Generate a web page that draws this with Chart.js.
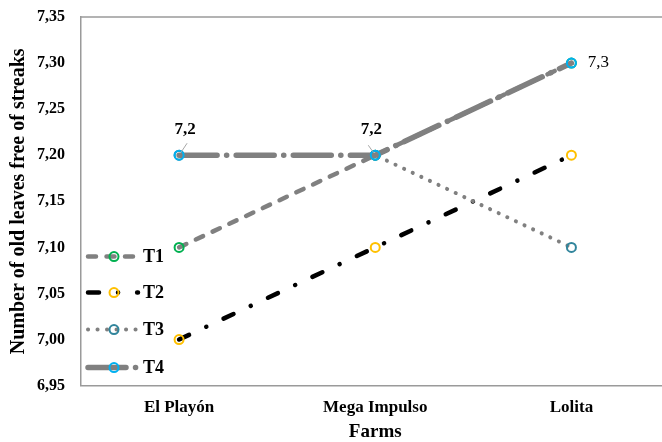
<!DOCTYPE html>
<html>
<head>
<meta charset="utf-8">
<script src="https://cdn.jsdelivr.net/npm/chart.js@4.4.1/dist/chart.umd.min.js"></script>
<style>
    body { margin: 0; overflow: hidden; background: #fff; }
    #wrap { width: 676px; height: 442px; }
</style>
</head>
<body>
<div id="wrap"><canvas id="farmsChart" width="676" height="442"></canvas></div>
<script>
// Data
var farms = ['El Playón', 'Mega Impulso', 'Lolita'];
var t1 = [7.10, 7.20, 7.30];
var t2 = [7.00, 7.10, 7.20];
var t3 = [7.20, 7.20, 7.10];
var t4 = [7.20, 7.20, 7.30];
var yMin = 6.95;
var yMax = 7.35;
var yStep = 0.05;

var serif = "'Liberation Serif', 'Times New Roman', serif";
var lineGray = '#808080';
var axisGray = '#9a9a9a';

function comma(v, d) {
    return v.toFixed(d).replace('.', ',');
}

var datasets = [
    { label: 'T1', data: t1, borderColor: lineGray, borderWidth: 4.5, borderDash: [8, 10.5],
      pointBorderColor: '#00b050', order: 3 },
    { label: 'T2', data: t2, borderColor: '#000000', borderWidth: 4.5, borderDash: [11, 19, 0.1, 19],
      pointBorderColor: '#ffc000', order: 2 },
    { label: 'T3', data: t3, borderColor: lineGray, borderWidth: 4, borderDash: [0.1, 9.4],
      pointBorderColor: '#31859c', order: 1 },
    { label: 'T4', data: t4, borderColor: lineGray, borderWidth: 5.5, borderDash: [38, 9.5, 0.1, 9.5],
      pointBorderColor: '#00b0f0', order: 0 }
];
datasets.forEach(function(ds) {
    ds.borderCapStyle = 'round';
    ds.fill = false;
    ds.tension = 0;
    ds.pointRadius = 4.5;
    ds.pointBorderWidth = 2;
    ds.pointBackgroundColor = 'rgba(0,0,0,0)';
    ds.pointHoverRadius = 4.5;
});

// top frame line (plot area has left, top and bottom lines)
var frameTop = {
    id: 'frameTop',
    afterDraw: function(chart) {
        var a = chart.chartArea, ctx = chart.ctx;
        ctx.save();
        ctx.strokeStyle = axisGray;
        ctx.lineWidth = 1.5;
        ctx.beginPath();
        ctx.moveTo(a.left, a.top);
        ctx.lineTo(a.right, a.top);
        ctx.stroke();
        ctx.restore();
    }
};

// legend inside the plot: line sample with the marker in its middle
var innerLegend = {
    id: 'innerLegend',
    afterDraw: function(chart) {
        var ctx = chart.ctx, a = chart.chartArea;
        var rows = [129, 93, 56, 18];
        chart.data.datasets.forEach(function(ds, i) {
            var y = a.bottom - rows[i];
            var x0 = a.left + 7;
            ctx.save();
            ctx.strokeStyle = ds.borderColor;
            ctx.lineWidth = ds.borderWidth;
            ctx.lineCap = 'round';
            ctx.setLineDash(ds.borderDash);
            ctx.beginPath();
            ctx.moveTo(x0, y);
            ctx.lineTo(x0 + 50, y);
            ctx.stroke();
            ctx.setLineDash([]);
            ctx.strokeStyle = ds.pointBorderColor;
            ctx.lineWidth = 2;
            ctx.beginPath();
            ctx.arc(x0 + 26, y, 4.5, 0, Math.PI * 2);
            ctx.stroke();
            ctx.fillStyle = '#000';
            ctx.font = 'bold 18px ' + serif;
            ctx.textBaseline = 'middle';
            ctx.fillText(ds.label, x0 + 55, y + 1);
            ctx.restore();
        });
    }
};

// value labels on the T4 points
var pointLabels = {
    id: 'pointLabels',
    afterDatasetsDraw: function(chart) {
        var ctx = chart.ctx;
        var x = chart.scales.x, y = chart.scales.y;
        var spots = [
            { i: 0, dx: 6, dy: -26, lead: [8, -12, 2, -3], bold: true },
            { i: 1, dx: -4, dy: -26, lead: [-7, -10, -2, -3], bold: true },
            { i: 2, dx: 27, dy: -1, lead: null, bold: false }
        ];
        spots.forEach(function(s) {
            var px = x.getPixelForValue(s.i);
            var py = y.getPixelForValue(t4[s.i]);
            ctx.save();
            if (s.lead) {
                ctx.strokeStyle = '#a6a6a6';
                ctx.lineWidth = 1;
                ctx.beginPath();
                ctx.moveTo(px + s.lead[0], py + s.lead[1]);
                ctx.lineTo(px + s.lead[2], py + s.lead[3]);
                ctx.stroke();
            }
            ctx.fillStyle = '#000';
            ctx.font = (s.bold ? 'bold ' : '') + '17px ' + serif;
            ctx.textAlign = 'center';
            ctx.textBaseline = 'middle';
            ctx.fillText(comma(t4[s.i], 1), px + s.dx, py + s.dy);
            ctx.restore();
        });
    }
};

new Chart(document.getElementById('farmsChart'), {
    type: 'line',
    data: { labels: farms, datasets: datasets },
    options: {
        responsive: false,
        animation: false,
        layout: { padding: { top: 17, right: 1, left: 7, bottom: 0 } },
        plugins: {
            legend: { display: false },
            tooltip: { enabled: false }
        },
        scales: {
            x: {
                offset: true,
                grid: { display: false, drawTicks: false },
                border: { display: true, color: axisGray, width: 1.5 },
                ticks: { color: '#000', padding: 12, font: { family: serif, size: 17, weight: 'bold' } },
                title: { display: true, text: 'Farms', color: '#000', padding: { top: -7, bottom: 0 },
                         font: { family: serif, size: 19, weight: 'bold', lineHeight: 1 } }
            },
            y: {
                min: yMin,
                max: yMax,
                afterFit: function(scale) { scale.paddingTop = 0; },
                grid: { display: false, drawTicks: false },
                border: { display: true, color: axisGray, width: 1.5 },
                ticks: {
                    stepSize: yStep, color: '#000', padding: 16,
                    font: { family: serif, size: 16, weight: 'bold' },
                    callback: function(v) { return comma(v, 2); }
                },
                title: { display: true, text: 'Number of old leaves free of streaks', color: '#000',
                         padding: { top: 0, bottom: -10 },
                         font: { family: serif, size: 20, weight: 'bold' } }
            }
        }
    },
    plugins: [frameTop, innerLegend, pointLabels]
});
</script>
</body>
</html>
